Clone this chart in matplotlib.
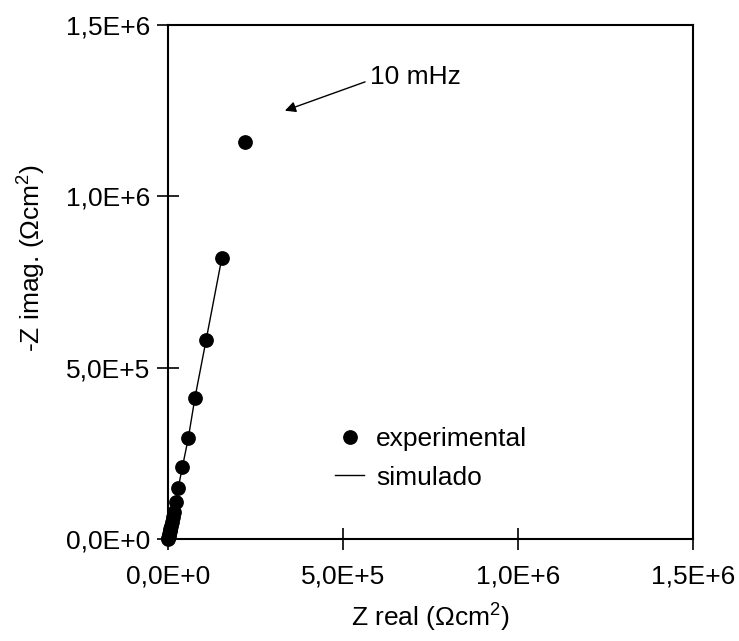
import numpy as np
import matplotlib
matplotlib.use('Agg')
import matplotlib.pyplot as plt
from matplotlib.lines import Line2D

plt.rcParams['font.family'] = ['Liberation Sans', 'DejaVu Sans']
plt.rcParams['mathtext.fontset'] = 'custom'
plt.rcParams['mathtext.rm'] = 'Liberation Sans'
plt.rcParams['mathtext.it'] = 'Liberation Sans:italic'

# Impedance data (Nyquist), ohm cm^2
z_real_exp = [220e3, 154e3, 109e3, 77e3, 58e3, 41e3, 29e3, 22e3, 17e3,
              14e3, 11e3, 9e3, 7e3, 5e3, 3.5e3, 2.5e3, 1.5e3, 0.5e3]
z_imag_exp = [1.159e6, 821e3, 581e3, 412e3, 294e3, 209e3, 148e3, 109e3, 80e3,
              64e3, 50e3, 39e3, 30e3, 22e3, 15e3, 9e3, 4e3, 0.5e3]

z_real_sim = [154e3, 109e3, 77e3, 58e3, 41e3, 29e3, 22e3, 17e3, 11e3, 5e3, 0]
z_imag_sim = [821e3, 581e3, 412e3, 294e3, 209e3, 148e3, 109e3, 80e3, 50e3, 22e3, 0]

ticks = [0, 5e5, 1e6, 1.5e6]
tick_labels = ['0,0E+0', '5,0E+5', '1,0E+6', '1,5E+6']

FS = 19

fig = plt.figure(figsize=(7.39, 6.41), dpi=100)
ax = fig.add_axes([0.2273, 0.1591, 0.7105, 0.8019])

ax.plot(z_real_sim, z_imag_sim, color='black', lw=1.0, zorder=2)
ax.plot(z_real_exp, z_imag_exp, 'o', color='black', ms=9.6, zorder=3, clip_on=False)

ax.set_xlim(0, 1.5e6)
ax.set_ylim(0, 1.5e6)
ax.set_xticks(ticks)
ax.set_xticklabels(tick_labels)
ax.set_yticks(ticks)
ax.set_yticklabels(tick_labels)
ax.tick_params(direction='inout', length=16, width=1.2, labelsize=FS)
ax.tick_params(axis='x', pad=10)
ax.tick_params(axis='y', pad=5)
for s in ax.spines.values():
    s.set_linewidth(1.5)

ax.set_xlabel('Z real (Ωcm$^2$)', fontsize=FS, labelpad=10)
ax.set_ylabel('-Z imag. (Ωcm$^2$)', fontsize=FS)
ax.yaxis.set_label_coords(-0.228, 0.547)

# lowest frequency point
ax.annotate('', xy=(334e3, 1.250e6), xytext=(563e3, 1.334e6),
            arrowprops=dict(arrowstyle='-|>', mutation_scale=16, lw=1.0,
                            color='black', shrinkA=0, shrinkB=0))
ax.text(577e3, 1.348e6, '10 mHz', fontsize=FS, ha='left', va='center')

handles = [Line2D([], [], ls='none', marker='o', color='black', ms=9.6),
           Line2D([], [], color='black', lw=1.0)]
ax.legend(handles, ['experimental', 'simulado'], frameon=False, fontsize=FS,
          loc='upper left', bbox_to_anchor=(335 / 739, 1 - 427 / 641),
          bbox_transform=fig.transFigure, handlelength=1.1, handletextpad=0.45,
          labelspacing=0.55, borderpad=0, borderaxespad=0)

fig.savefig('out.png', dpi=100)
